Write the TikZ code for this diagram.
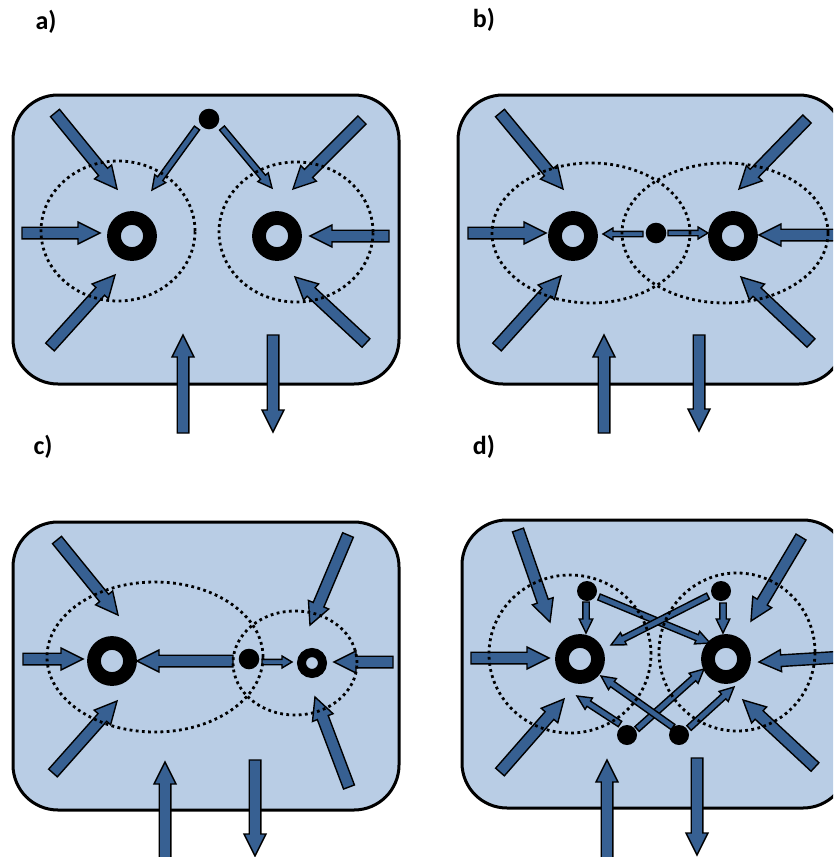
\documentclass[tikz,border=0pt]{standalone}
\usepackage{fontspec}
\setmainfont{Carlito}
\usetikzlibrary{calc}
\definecolor{boxfill}{HTML}{B9CDE5}
\definecolor{arrfill}{HTML}{376092}
\tikzset{
  boxst/.style={draw=black,line width=3pt,fill=boxfill,rounded corners=45pt},
  arrowst/.style={draw=black,line width=1.4pt,fill=arrfill,line join=miter},
  ellst/.style={draw=black,line width=2.8pt,dash pattern=on 2.8pt off 3.4pt},
  ringst/.style={draw=black,line width=13.8pt},
  smringst/.style={draw=black,line width=9pt},
  dotst/.style={fill=black},
  lbl/.style={font=\bfseries\fontsize{26}{30}\selectfont,inner sep=0pt}
}
% start, end, half shaft, half head, head length
\newcommand\barr[5]{%
  \coordinate (bh) at ($(#2)!#5!(#1)$);
  \filldraw[arrowst] ($(#1)!#3!90:(#2)$) -- ($(bh)!#3!90:(#2)$) -- ($(bh)!#4!90:(#2)$)
    -- (#2) -- ($(bh)!#4!-90:(#2)$) -- ($(bh)!#3!-90:(#2)$) -- ($(#1)!#3!-90:(#2)$) -- cycle;
}
\newcommand\bigarr[2]{\barr{#1}{#2}{5.8pt}{11pt}{22pt}}
\newcommand\smarr[2]{\barr{#1}{#2}{3.2pt}{6.8pt}{14pt}}
\newcommand\tnarr[2]{\barr{#1}{#2}{2.7pt}{6pt}{10pt}}
\begin{document}
\begin{tikzpicture}[x=1pt,y=-1pt]
\useasboundingbox (0,0) rectangle (833,857);
\clip (0,0) rectangle (833,857);
% labels
\node[lbl] (la) at (46,22) {a)};
\node[lbl] (lb) at (484,20) {b)};
\node[lbl] (lc) at (43,447) {c)};
\node[lbl] (ld) at (484,447) {d)};

% ---------------- a ----------------
\path[boxst] (13,95) rectangle (399,384);
\bigarr{55,113}{117,189}
\bigarr{22,233}{100,233}
\bigarr{50,347}{115,275}
\smarr{197,128}{152,190}
\smarr{222,128}{272,188}
\bigarr{362,120}{293,189}
\bigarr{389,236}{310,236}
\bigarr{366,343}{295,277}
\bigarr{183,433}{183,335}
\bigarr{273,335}{273,432}
\draw[ellst] (118,231) ellipse [x radius=77pt,y radius=70pt];
\draw[ellst] (296,232) ellipse [x radius=77pt,y radius=70pt];
\draw[ringst] (132,236) circle [radius=18pt];
\draw[ringst] (277,236) circle [radius=18pt];
\fill[dotst] (209,119) circle [radius=10.3pt];

% ---------------- b ----------------
\path[boxst] (458,95) rectangle (844,384);
\bigarr{500,113}{563,189}
\bigarr{468,233}{546,233}
\bigarr{497,347}{561,276}
\tnarr{643,234}{603,234}
\tnarr{668,233}{708,233}
\bigarr{807,119}{739,189}
\bigarr{842,235}{759,235}
\bigarr{811,343}{741,277}
\bigarr{604,433}{604,335}
\bigarr{699,335}{699,431}
\draw[ellst] (591,233) ellipse [x radius=99pt,y radius=70pt];
\draw[ellst] (725,233) ellipse [x radius=103pt,y radius=70pt];
\draw[ringst] (573,236) circle [radius=18pt];
\draw[ringst] (733,236) circle [radius=18pt];
\fill[dotst] (656,233) circle [radius=10.3pt];

% ---------------- c ----------------
\path[boxst] (13,522) rectangle (399,810);
\bigarr{57,540}{118,615}
\bigarr{23,659}{83,659}
\bigarr{53,773}{117,701}
\bigarr{233,661}{137,661}
\tnarr{262,662}{292,662}
\bigarr{348,535}{310,625}
\bigarr{393,662}{334,662}
\bigarr{349,787}{315,697}
\bigarr{165,860}{165,762}
\bigarr{255,760}{255,856}
\draw[ellst] (155,657) ellipse [x radius=108pt,y radius=75pt];
\draw[ellst] (295,663) ellipse [x radius=62pt,y radius=52pt];
\draw[ringst] (112,661) circle [radius=18pt];
\draw[smringst] (312,663) circle [radius=10.5pt];
\fill[dotst] (249,659) circle [radius=10.3pt];

% ---------------- d ----------------
\path[boxst] (462,520) rectangle (848,808);
\bigarr{518,530}{550,622}
\bigarr{471,658}{549,658}
\bigarr{500,772}{564,699}
\bigarr{801,537}{751,621}
\bigarr{842,657}{759,662}
\bigarr{815,767}{743,700}
\bigarr{607,860}{607,760}
\bigarr{697,758}{697,855}
\smarr{586,602}{586,633}
\smarr{723,603}{723,633}
\smarr{599,597}{710,643}
\smarr{708,596}{611,645}
\smarr{620,724}{577,696}
\smarr{637,729}{704,669}
\smarr{673,727}{601,676}
\smarr{689,728}{734,687}
\draw[ellst] (570,654) ellipse [x radius=81pt,y radius=79pt];
\draw[ellst] (737,652) ellipse [x radius=78pt,y radius=79pt];
\draw[ringst] (580,659) circle [radius=18pt];
\draw[ringst] (726,659) circle [radius=18pt];
\fill[dotst] (587,591) circle [radius=10pt];
\fill[dotst] (721,591) circle [radius=10pt];
\fill[dotst] (627,735) circle [radius=10pt];
\fill[dotst] (679,735) circle [radius=10pt];
\end{tikzpicture}
\end{document}
